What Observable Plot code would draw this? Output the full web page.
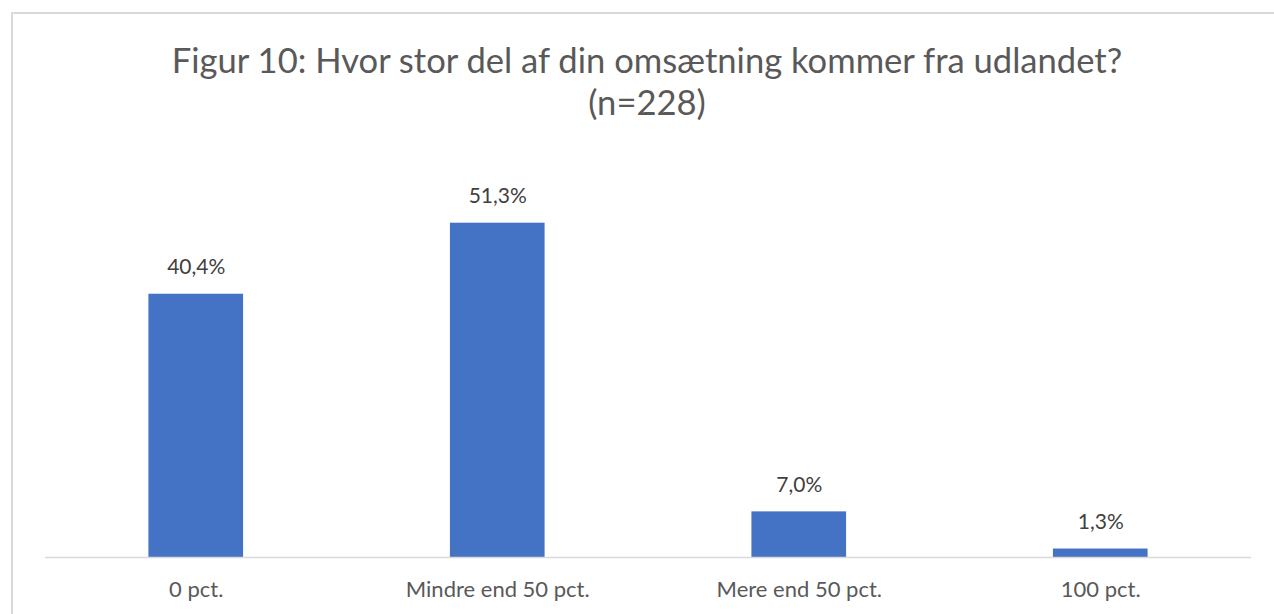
<!DOCTYPE html>
<html>
<head>
<meta charset="utf-8">
<script src="https://cdn.jsdelivr.net/npm/d3@7"></script>
<script src="https://cdn.jsdelivr.net/npm/@observablehq/plot@0.6"></script>
<style>
  html, body { margin: 0; padding: 0; background: #fff; overflow: hidden; }
  body { width: 1274px; height: 614px; position: relative; font-family: Lato, "Open Sans", sans-serif; }
  #frame { position: absolute; left: 11px; top: 12px; width: 1300px; height: 640px; border: 2px solid #d9d9d9; box-sizing: border-box; }
  #title { position: absolute; left: 147px; width: 1000px; top: 39px; text-align: center; color: #595959; font-size: 34.6px; line-height: 42px; font-family: Lato, sans-serif; white-space: nowrap; }
  #chart { position: absolute; left: 0; top: 0; }
</style>
</head>
<body>
<div id="frame"></div>
<div id="title">Figur 10: Hvor stor del af din omsætning kommer fra udlandet?<br>(n=228)</div>
<div id="chart"></div>
<script>
const categories = ["0 pct.", "Mindre end 50 pct.", "Mere end 50 pct.", "100 pct."];
const values = [40.4, 51.3, 7.0, 1.3];
const labels = ["40,4%", "51,3%", "7,0%", "1,3%"];

const data = categories.map((c, i) => ({category: c, value: values[i], label: labels[i]}));

const plot = Plot.plot({
  width: 1274,
  height: 614,
  marginLeft: 45,
  marginRight: 23,
  marginTop: 166,
  marginBottom: 57,
  style: {background: "transparent", fontFamily: "Lato, sans-serif"},
  x: {domain: categories, paddingInner: 0.686, paddingOuter: 0.343, round: false, axis: null},
  y: {domain: [0, 60], axis: null},
  marks: [
    Plot.barY(data, {x: "category", y: "value", fill: "#4472C4"}),
    Plot.ruleY([0], {stroke: "#d9d9d9", strokeWidth: 1.5}),
    Plot.text(data, {x: "category", y: "value", text: "label", dy: -27, fill: "#404040", fontSize: 21}),
    Plot.axisX({tickSize: 0, tickPadding: 24, fontSize: 22, color: "#595959", label: null})
  ]
});
document.getElementById("chart").appendChild(plot);
</script>
</body>
</html>
